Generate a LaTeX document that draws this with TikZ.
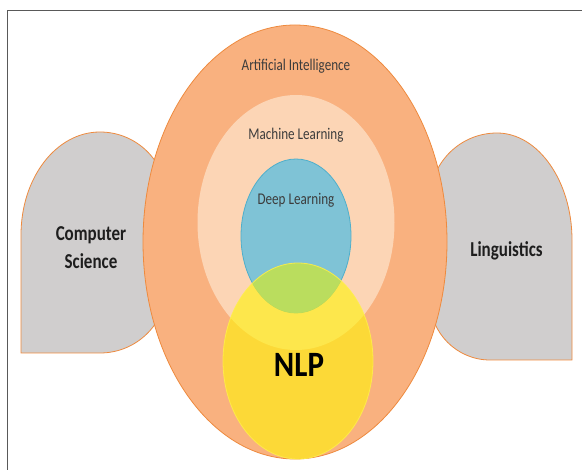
\documentclass[tikz,border=0pt]{standalone}
\usepackage{fontspec}
\setmainfont{Carlito}
\usetikzlibrary{shapes.geometric}

\definecolor{aiFill}{HTML}{F9B17F}
\definecolor{aiLine}{HTML}{EE8A3E}
\definecolor{mlFill}{HTML}{FCD5B5}
\definecolor{dlFill}{HTML}{7FC3D6}
\definecolor{dlLine}{HTML}{4FAFCB}
\definecolor{nlpFill}{HTML}{FFF30C}
\definecolor{nlpLine}{HTML}{FFEF4A}
\definecolor{overlapFill}{HTML}{BADD5E}
\definecolor{sideFill}{HTML}{D0CECE}
\definecolor{frameLine}{HTML}{595959}
\definecolor{lblText}{HTML}{3C3C3C}
\definecolor{boldText}{HTML}{1E1E1E}

% labels are set a little taller than wide
\newcommand\tallbox[2]{\scalebox{1}[#1]{#2}}

\tikzset{
  field/.style={ellipse, inner sep=0pt, outer sep=0pt},
  sidebox/.style={fill=sideFill, draw=aiLine, line width=0.8pt},
  lbl/.style={anchor=base, inner sep=0pt, text=lblText,
    font=\fontsize{13.1}{15}\selectfont},
  boldlbl/.style={anchor=base, inner sep=0pt, text=boldText,
    font=\fontsize{17}{20}\selectfont\bfseries},
}

\begin{document}
\begin{tikzpicture}[x=1pt, y=-1pt]
  \useasboundingbox (0,0) rectangle (582,470);
  \fill[white] (0,0) rectangle (582,470);

  % frame
  \draw[frameLine, line width=0.8pt] (7,470) -- (7,10) -- (582,10);

  % neighbouring disciplines
  \draw[sidebox] (21,353) -- (21,235)
    .. controls (21,178) and (56,132) .. (100,132)
    .. controls (137,132) and (167,162) .. (167,199)
    -- (167,286)
    .. controls (167,323) and (137,353) .. (100,353) -- cycle;
  \draw[sidebox] (572,360) -- (572,240)
    .. controls (572,181) and (538,133) .. (497,133)
    .. controls (460,133) and (430,163) .. (430,200)
    -- (430,300)
    .. controls (430,333) and (457,360) .. (490,360) -- cycle;

  % nested fields
  \node[field, fill=aiFill, draw=aiLine, line width=0.8pt,
        minimum width=304pt, minimum height=434pt] (ai) at (295,242) {};
  \node[field, fill=mlFill,
        minimum width=197pt, minimum height=255pt] (ml) at (296,222.5) {};
  \node[field, fill=dlFill, draw=dlLine, line width=0.8pt,
        minimum width=110pt, minimum height=154pt] (dl) at (296,236) {};
  \node[field, fill=nlpFill, fill opacity=0.62,
        minimum width=150pt, minimum height=196pt] (nlp) at (298,361) {};

  % where NLP meets Deep Learning
  \begin{scope}
    \clip (298,361) ellipse [x radius=75pt, y radius=98pt];
    \fill[overlapFill] (296,236) ellipse [x radius=55pt, y radius=77pt];
  \end{scope}
  \draw[nlpLine, draw opacity=0.85, line width=0.8pt]
    (298,361) ellipse [x radius=75pt, y radius=98pt];

  % labels
  \node[lbl] (ailbl) at (296,70.3) {\tallbox{1.25}{Artificial Intelligence}};
  \node[lbl] (mllbl) at (296,139.5) {\tallbox{1.25}{Machine Learning}};
  \node[lbl] (dllbl) at (296,205) {\tallbox{1.25}{Deep Learning}};
  \node[boldlbl] (cslbl1) at (91,240.7) {\tallbox{1.25}{Computer}};
  \node[boldlbl] (cslbl2) at (91,268.3) {\tallbox{1.25}{Science}};
  \node[boldlbl] (linglbl) at (506.5,256.5) {\tallbox{1.25}{Linguistics}};
  \node[anchor=base, inner sep=0pt, text=black,
        font=\fontsize{31}{36}\selectfont\bfseries] (nlplbl) at (299,377)
        {\tallbox{1.15}{NLP}};
\end{tikzpicture}
\end{document}
